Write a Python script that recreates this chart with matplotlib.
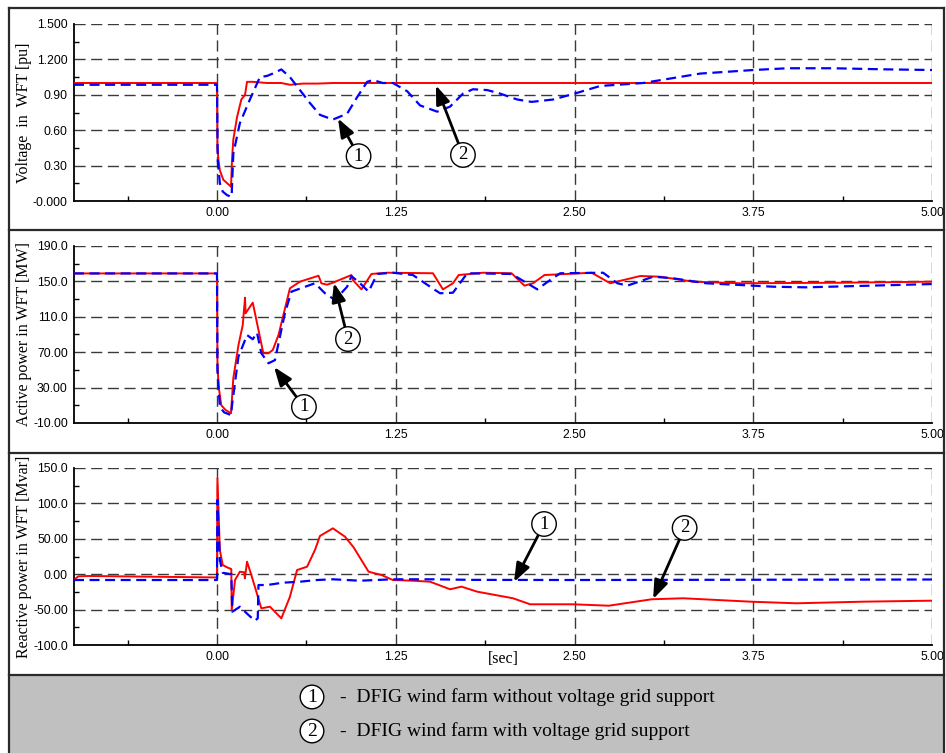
import matplotlib
matplotlib.use('Agg')
import matplotlib.pyplot as plt
from matplotlib.patches import Rectangle
from matplotlib.lines import Line2D

# time axis [sec]
# voltage in WFT [pu]
v_red_t = [-1.0, 0.0, 0.003, 0.01, 0.02, 0.044, 0.09, 0.098, 0.105, 0.114, 0.14, 0.17, 0.196, 0.21,
           0.25, 0.35, 0.45, 0.51, 0.6, 0.7, 0.81, 1.0, 1.25, 2.0, 3.0, 4.0, 5.0]
v_red = [1.0, 1.0, 0.45, 0.35, 0.26, 0.18, 0.13, 0.12, 0.35, 0.52, 0.71, 0.86, 0.90, 1.01,
         1.01, 1.0, 1.0, 0.985, 0.995, 0.995, 1.0, 1.0, 1.0, 1.0, 1.0, 1.0, 1.0]
v_blue_t = [-1.0, 0.0, 0.005, 0.02, 0.04, 0.07, 0.1, 0.103, 0.114, 0.16, 0.23, 0.30, 0.35, 0.39,
            0.45, 0.51, 0.58, 0.65, 0.72, 0.81, 0.91, 0.98, 1.05, 1.09, 1.16, 1.23, 1.33, 1.42,
            1.54, 1.63, 1.72, 1.79, 1.89, 1.98, 2.10, 2.2, 2.35, 2.5, 2.68, 2.98, 3.38, 3.75,
            3.99, 4.31, 4.66, 5.0]
v_blue = [0.985, 0.985, 0.35, 0.15, 0.08, 0.05, 0.035, 0.065, 0.40, 0.66, 0.86, 1.05, 1.06, 1.08,
          1.115, 1.05, 0.94, 0.83, 0.73, 0.69, 0.74, 0.88, 1.01, 1.025, 1.0, 1.0, 0.93, 0.81,
          0.757, 0.80, 0.91, 0.947, 0.94, 0.91, 0.86, 0.84, 0.86, 0.91, 0.975, 1.0, 1.08, 1.11,
          1.125, 1.125, 1.116, 1.11]

# active power in WFT [MW]
p_red_t = [-1.0, 0.0, 0.003, 0.01, 0.03, 0.06, 0.098, 0.114, 0.15, 0.18, 0.196, 0.2, 0.25, 0.324,
           0.36, 0.39, 0.43, 0.51, 0.58, 0.71, 0.73, 0.77, 0.81, 0.94, 0.95, 1.01, 1.08, 1.19,
           1.51, 1.58, 1.65, 1.69, 1.86, 2.06, 2.15, 2.21, 2.29, 2.62, 2.75, 2.96, 3.1, 3.33,
           3.66, 4.36, 5.0]
p_red = [159, 159, 60, 33, 10, 4.7, 1, 40.5, 78, 100.7, 131.6, 114, 126, 68.8,
         68.8, 72.5, 89.4, 142.2, 149.7, 156.4, 147.8, 146.3, 148.5, 157.2, 151.6, 141, 158.4, 159.8,
         159.2, 141, 147.9, 157.2, 159.8, 159.2, 145.2, 147.9, 157.2, 159.8, 147.9, 156.1, 155.3, 149.7,
         147.9, 148.5, 149.7]
p_blue_t = [-1.0, 0.0, 0.003, 0.02, 0.05, 0.098, 0.105, 0.15, 0.21, 0.25, 0.28, 0.31, 0.36, 0.405,
            0.475, 0.52, 0.685, 0.755, 0.825, 0.91, 0.94, 1.0, 1.06, 1.12, 1.23, 1.37, 1.49, 1.56,
            1.65, 1.75, 2.06, 2.24, 2.33, 2.40, 2.70, 2.80, 2.87, 3.05, 3.19, 3.42, 3.89, 4.12, 5.0]
p_blue = [159, 159, 50, 8, 2, -1, 10, 65, 89.4, 84.6, 92, 68.8, 57.5, 61,
          114, 138.4, 147.9, 136.6, 129, 144, 156, 147.9, 138.4, 158.4, 159.8, 157.2, 144, 136.6,
          137.2, 159.2, 158.4, 141, 151.6, 159.2, 159.8, 147.9, 145.2, 155.3, 153.5, 147.9, 144, 143.3, 147]

# reactive power in WFT [Mvar]
q_red_t = [-1.0, -0.97, -0.9, 0.0, 0.003, 0.02, 0.04, 0.07, 0.1, 0.103, 0.126, 0.16, 0.19, 0.195,
           0.21, 0.24, 0.31, 0.37, 0.45, 0.51, 0.56, 0.63, 0.685, 0.72, 0.81, 0.895, 0.955, 1.06,
           1.15, 1.23, 1.37, 1.49, 1.63, 1.71, 1.82, 2.07, 2.19, 2.49, 2.74, 3.04, 3.26, 3.73,
           4.05, 4.52, 5.0]
q_red = [-8, -3, -2.5, -4.6, 135.5, 34, 13, 9.7, 7.3, -50.6, -8.2, 3.5, 2.7, -5.8,
         17.7, -1.1, -48.2, -45.9, -62.3, -31.8, 5.9, 10.6, 34.2, 54, 64.8, 53, 38, 3.5,
         -1.1, -8.2, -9.2, -10.6, -21.3, -17.6, -24.7, -34, -42.5, -42.5, -44.5, -35.4, -34, -38.8,
         -41.1, -38.8, -37.4]
q_blue_t = [-1.0, 0.0, 0.003, 0.02, 0.04, 0.09, 0.1, 0.107, 0.16, 0.22, 0.265, 0.285, 0.29, 0.35,
            0.46, 0.58, 0.70, 0.81, 1.0, 1.23, 1.51, 1.78, 2.49, 5.0]
q_blue = [-8.2, -8.2, 104.8, 20, 2, 0.3, 0.3, -53, -46, -57.6, -65.7, -62.3, -15.3, -15.3,
          -12, -10.6, -8.2, -7.2, -9.2, -7.2, -7.2, -8, -8.2, -7.5]

x_ticks = [0.0, 1.25, 2.5, 3.75, 5.0]
x_labels = ['0.00', '1.25', '2.50', '3.75', '5.00']

panels = [
    # top px, bottom px, y ticks, y tick labels, ylabel, data
    (24, 201, [0.0, 0.3, 0.6, 0.9, 1.2, 1.5],
     ['-0.000', '0.30', '0.60', '0.90', '1.200', '1.500'],
     'Voltage  in  WFT [pu]', (v_red_t, v_red, v_blue_t, v_blue)),
    (246, 423, [-10, 30, 70, 110, 150, 190],
     ['-10.00', '30.00', '70.00', '110.0', '150.0', '190.0'],
     'Active power in WFT [MW]', (p_red_t, p_red, p_blue_t, p_blue)),
    (468, 645, [-100, -50, 0, 50, 100, 150],
     ['-100.0', '-50.00', '0.00', '50.00', '100.0', '150.0'],
     'Reactive power in WFT [Mvar]', (q_red_t, q_red, q_blue_t, q_blue)),
]

# circled markers: (panel, number, circle centre, arrow head)
callouts = [
    (0, '1', (0.99, 0.38), (0.846, 0.70)),
    (0, '2', (1.72, 0.39), (1.531, 0.98)),
    (1, '1', (0.608, 8.1), (0.399, 53.3)),
    (1, '2', (0.916, 84.9), (0.818, 148.2)),
    (2, '1', (2.287, 70.9), (2.077, -11)),
    (2, '2', (3.27, 65.3), (3.05, -35)),
]

W, H = 946, 753
serif = 'Liberation Serif'
sans = 'Liberation Sans'

fig = plt.figure(figsize=(W / 100, H / 100), dpi=100)

axes = []
for top, bot, yt, ylab, ylabel, (rt, rv, bt, bv) in panels:
    ax = fig.add_axes([74 / W, 1 - bot / H, 858 / W, (bot - top) / H])
    ax.plot(rt, rv, color='#ff0000', lw=1.4, zorder=3)
    ax.plot(bt, bv, color='#0000ff', lw=1.6, ls=(0, (4.5, 2.5)), zorder=4)
    ax.set_xlim(-1.0, 5.0)
    ax.set_ylim(yt[0], yt[-1])
    ax.set_xticks(x_ticks)
    ax.set_xticklabels(x_labels)
    ax.set_xticks([-0.625, 0.625, 1.875, 3.125, 4.375], minor=True)
    ax.set_yticks(yt)
    ax.set_yticklabels(ylab)
    ax.set_yticks([(a + b) / 2 for a, b in zip(yt[:-1], yt[1:])], minor=True)
    ax.tick_params(which='major', direction='in', length=0, pad=4.5, labelsize=8.7)
    ax.tick_params(which='minor', direction='in', length=3.5, width=1.0)
    for lab in ax.get_xticklabels() + ax.get_yticklabels():
        lab.set_family(sans)
    ax.grid(which='major', ls=(0, (8, 4)), color='#3a3a3a', lw=1.0)
    for s in ['top', 'right']:
        ax.spines[s].set_visible(False)
    for s in ['left', 'bottom']:
        ax.spines[s].set_linewidth(1.3)
    ax.set_ylabel(ylabel, family=serif, fontsize=11.5, va='center')
    ax.yaxis.set_label_coords(-50 / 858, 0.5)
    axes.append(ax)

for i, num, centre, head in callouts:
    axes[i].annotate(num, xy=head, xytext=centre, ha='center', va='center',
                     family=serif, fontsize=13.5, zorder=6,
                     bbox=dict(boxstyle='circle,pad=0.2', fc='white', ec='black', lw=1.0),
                     arrowprops=dict(arrowstyle='-|>,head_length=0.8,head_width=0.3',
                                     color='black', lw=2.0, shrinkA=0, shrinkB=0,
                                     mutation_scale=14))

fig.text(503 / W, 1 - 659 / H, '[sec]', family=serif, fontsize=11.5, ha='center', va='center')

# frame and panel separators
fig.add_artist(Rectangle((10 / W, 0), 934 / W, 1 - 675 / H, transform=fig.transFigure,
                         fc='#c0c0c0', ec='none', zorder=0))
frame = '#2a2a2a'
for py in [8, 230, 453, 675]:
    fig.add_artist(Line2D([9 / W, 944 / W], [1 - py / H] * 2, transform=fig.transFigure,
                          color=frame, lw=1.6))
for px in [9, 944]:
    fig.add_artist(Line2D([px / W] * 2, [0, 1 - 8 / H], transform=fig.transFigure,
                          color=frame, lw=1.6))

legend_rows = [('1', '-  DFIG wind farm without voltage grid support', 697),
               ('2', '-  DFIG wind farm with voltage grid support', 731)]
for num, txt, py in legend_rows:
    fig.text(312 / W, 1 - py / H, num, family=serif, fontsize=14, ha='center', va='center',
             bbox=dict(boxstyle='circle,pad=0.17', fc='white', ec='black', lw=1.0))
    fig.text(340 / W, 1 - py / H, txt, family=serif, fontsize=14, ha='left', va='center')

fig.savefig('out.png', dpi=100)
